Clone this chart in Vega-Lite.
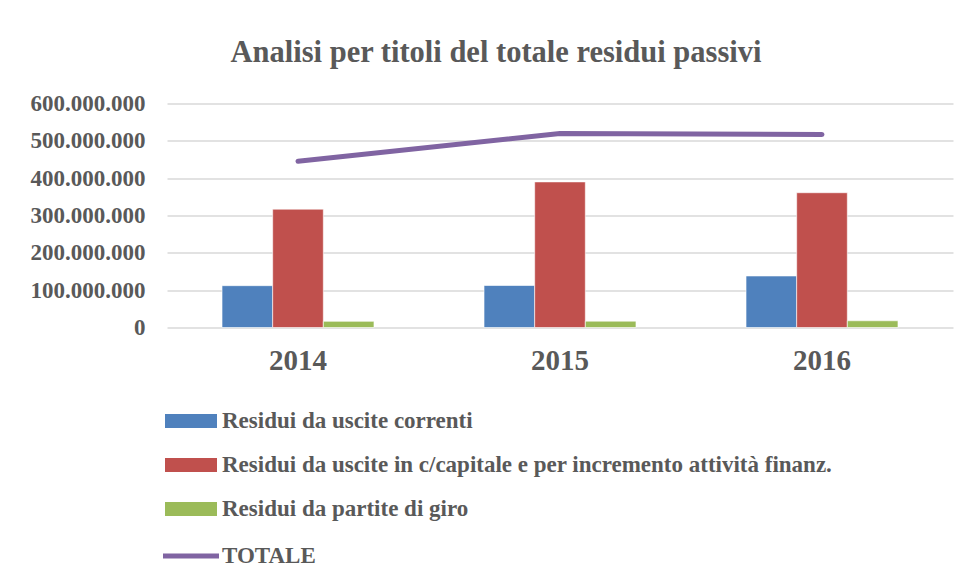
{
  "$schema": "https://vega.github.io/schema/vega-lite/v6.json",
  "autosize": {"type": "none"},
  "width": 786,
  "height": 224,
  "padding": {"left": 167, "top": 103.5, "right": 14, "bottom": 253.5},
  "background": "#ffffff",
  "title": {
    "text": "Analisi per titoli del totale residui passivi",
    "font": "Liberation Serif",
    "fontSize": 30.5,
    "fontWeight": "bold",
    "color": "#595959",
    "anchor": "middle",
    "frame": "group",
    "dx": -64,
    "offset": 24
  },
  "data": {
    "values": [
      {"anno": "2014", "serie": "Residui da uscite correnti", "valore": 112000000},
      {"anno": "2014", "serie": "Residui da uscite in c/capitale e per incremento attività finanz.", "valore": 317000000},
      {"anno": "2014", "serie": "Residui da partite di giro", "valore": 16500000},
      {"anno": "2014", "serie": "TOTALE", "valore": 445500000},
      {"anno": "2015", "serie": "Residui da uscite correnti", "valore": 112500000},
      {"anno": "2015", "serie": "Residui da uscite in c/capitale e per incremento attività finanz.", "valore": 390000000},
      {"anno": "2015", "serie": "Residui da partite di giro", "valore": 17000000},
      {"anno": "2015", "serie": "TOTALE", "valore": 519500000},
      {"anno": "2016", "serie": "Residui da uscite correnti", "valore": 138000000},
      {"anno": "2016", "serie": "Residui da uscite in c/capitale e per incremento attività finanz.", "valore": 361000000},
      {"anno": "2016", "serie": "Residui da partite di giro", "valore": 18000000},
      {"anno": "2016", "serie": "TOTALE", "valore": 517000000}
    ]
  },
  "encoding": {
    "x": {
      "field": "anno",
      "type": "nominal",
      "scale": {"paddingInner": 0.42, "paddingOuter": 0.21},
      "axis": {
        "title": null,
        "domain": false,
        "ticks": false,
        "grid": false,
        "labelAngle": 0,
        "labelPadding": 19,
        "labelFont": "Liberation Serif",
        "labelFontSize": 29,
        "labelFontWeight": "bold",
        "labelColor": "#595959"
      }
    },
    "y": {
      "field": "valore",
      "type": "quantitative",
      "scale": {"domain": [0, 600000000], "nice": false, "zero": true},
      "axis": {
        "title": null,
        "values": [0, 100000000, 200000000, 300000000, 400000000, 500000000, 600000000],
        "format": ",d",
        "domain": false,
        "ticks": false,
        "grid": true,
        "gridColor": "#D9D9D9",
        "gridWidth": 1.5,
        "labelPadding": 22,
        "labelFont": "Liberation Serif",
        "labelFontSize": 23,
        "labelFontWeight": "bold",
        "labelColor": "#595959"
      }
    }
  },
  "layer": [
    {
      "transform": [{"filter": "datum.serie !== 'TOTALE'"}],
      "mark": {"type": "bar", "stroke": "#ffffff", "strokeWidth": 0.6},
      "encoding": {
        "xOffset": {
          "field": "serie",
          "type": "nominal",
          "scale": {
            "domain": ["Residui da uscite correnti", "Residui da uscite in c/capitale e per incremento attività finanz.", "Residui da partite di giro"],
            "paddingInner": 0,
            "paddingOuter": 0
          }
        },
        "color": {
          "field": "serie",
          "type": "nominal",
          "scale": {
            "domain": ["Residui da uscite correnti", "Residui da uscite in c/capitale e per incremento attività finanz.", "Residui da partite di giro"],
            "range": ["#4F81BD", "#C0504D", "#9BBB59"]
          },
          "legend": {
            "title": null,
            "orient": "none",
            "direction": "vertical",
            "legendX": 11,
            "legendY": 304.5,
            "padding": 0,
            "symbolType": "M-2,-0.54H2V0.54H-2Z",
            "symbolSize": 676,
            "symbolStrokeWidth": 0,
            "symbolOpacity": 1,
            "rowPadding": 19,
            "labelOffset": 18,
            "labelLimit": 1000,
            "labelFont": "Liberation Serif",
            "labelFontSize": 23,
            "labelFontWeight": "bold",
            "labelColor": "#595959"
          }
        }
      }
    },
    {
      "transform": [{"filter": "datum.serie === 'TOTALE'"}],
      "mark": {"type": "line", "strokeWidth": 5, "strokeCap": "round", "strokeJoin": "round"},
      "encoding": {
        "stroke": {
          "field": "serie",
          "type": "nominal",
          "scale": {"domain": ["TOTALE"], "range": ["#8064A2"]},
          "legend": {
            "title": null,
            "orient": "none",
            "legendX": 7.5,
            "legendY": 436,
            "padding": 0,
            "symbolType": "M-2,0H2",
            "symbolSize": 784,
            "symbolStrokeWidth": 5,
            "symbolStrokeColor": "#8064A2",
            "labelOffset": 14.5,
            "labelLimit": 1000,
            "labelFont": "Liberation Serif",
            "labelFontSize": 23,
            "labelFontWeight": "bold",
            "labelColor": "#595959"
          }
        }
      }
    }
  ],
  "config": {
    "locale": {
      "number": {"decimal": ",", "thousands": ".", "grouping": [3], "currency": ["€", ""]}
    },
    "view": {"stroke": null}
  }
}
